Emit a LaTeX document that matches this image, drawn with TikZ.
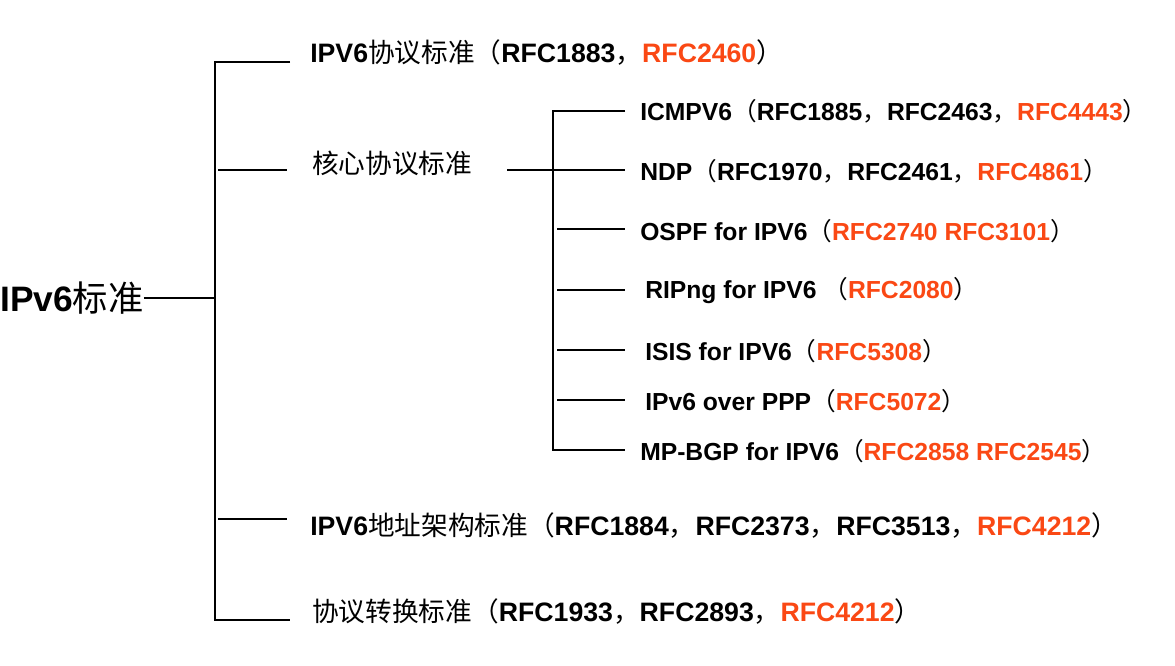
\documentclass[tikz,border=0pt]{standalone}
\usepackage{fontspec}
\setmainfont{Liberation Sans}
\newfontfamily\cjk{Noto Sans CJK SC}
\usepackage{xcolor}
\definecolor{rfc_red}{RGB}{250,72,20}
\usetikzlibrary{positioning, calc}
\tikzstyle{item} = [anchor=west, inner sep=0pt, font=\bfseries\fontsize{20}{22}\selectfont, text=black]
\tikzstyle{subitem} = [anchor=west, inner sep=0pt, font=\bfseries\fontsize{18.5}{21}\selectfont, text=black]
\tikzstyle{branch} = [line width=0.9pt, black]
\newcommand{\zh}[1]{{\cjk\mdseries #1}}
\newcommand{\rfc}[1]{\textcolor{rfc_red}{#1}}

\begin{document}
\begin{tikzpicture}[x=0.75pt, y=-0.75pt]
    \useasboundingbox (0,0) rectangle (1175,666);

    % root and first level nodes
    \node[anchor=west, inner sep=0pt, font=\bfseries\fontsize{26.5}{30}\selectfont] (root) at (0,298) {IPv6\zh{标准}};
    \node[item] (protocol_std) at (310,53) {IPV6\zh{协议标准（}RFC1883\zh{，}\rfc{RFC2460}\zh{）}};
    \node[item] (core_std) at (312,163) {\zh{核心协议标准}};
    \node[item] (address_std) at (310,526) {IPV6\zh{地址架构标准（}RFC1884\zh{，}RFC2373\zh{，}RFC3513\zh{，}\rfc{RFC4212}\zh{）}};
    \node[item] (convert_std) at (312,612) {\zh{协议转换标准（}RFC1933\zh{，}RFC2893\zh{，}\rfc{RFC4212}\zh{）}};

    % second level nodes
    \node[subitem] (icmp) at (640,111) {ICMPV6\zh{（}RFC1885\zh{，}RFC2463\zh{，}\rfc{RFC4443}\zh{）}};
    \node[subitem] (ndp) at (640,171) {NDP\zh{（}RFC1970\zh{，}RFC2461\zh{，}\rfc{RFC4861}\zh{）}};
    \node[subitem] (ospf) at (640,231) {OSPF for IPV6\zh{（}\rfc{RFC2740 RFC3101}\zh{）}};
    \node[subitem] (ripng) at (645,291) {RIPng for IPV6 \zh{（}\rfc{RFC2080}\zh{）}};
    \node[subitem] (isis) at (645,351) {ISIS for IPV6\zh{（}\rfc{RFC5308}\zh{）}};
    \node[subitem] (ppp) at (645,401) {IPv6 over PPP\zh{（}\rfc{RFC5072}\zh{）}};
    \node[subitem] (bgp) at (640,451) {MP-BGP for IPV6\zh{（}\rfc{RFC2858 RFC2545}\zh{）}};

    % first level bracket
    \coordinate (trunk_top) at (215,62);
    \coordinate (trunk_bottom) at (215,620);
    \draw[branch] (root.east) -- (215,298);
    \draw[branch] (290,62) -- (trunk_top) -- (trunk_bottom) -- (290,620);
    \draw[branch] (218,170) -- (287,170);
    \draw[branch] (218,519) -- (287,519);

    % second level bracket
    \coordinate (sub_top) at (553,111);
    \coordinate (sub_bottom) at (553,450);
    \draw[branch] (507,170) -- (625,170);
    \draw[branch] (625,111) -- (sub_top) -- (sub_bottom) -- (625,450);
    \foreach \y in {229,290,350,400}
        \draw[branch] (557,\y) -- (625,\y);
\end{tikzpicture}
\end{document}
